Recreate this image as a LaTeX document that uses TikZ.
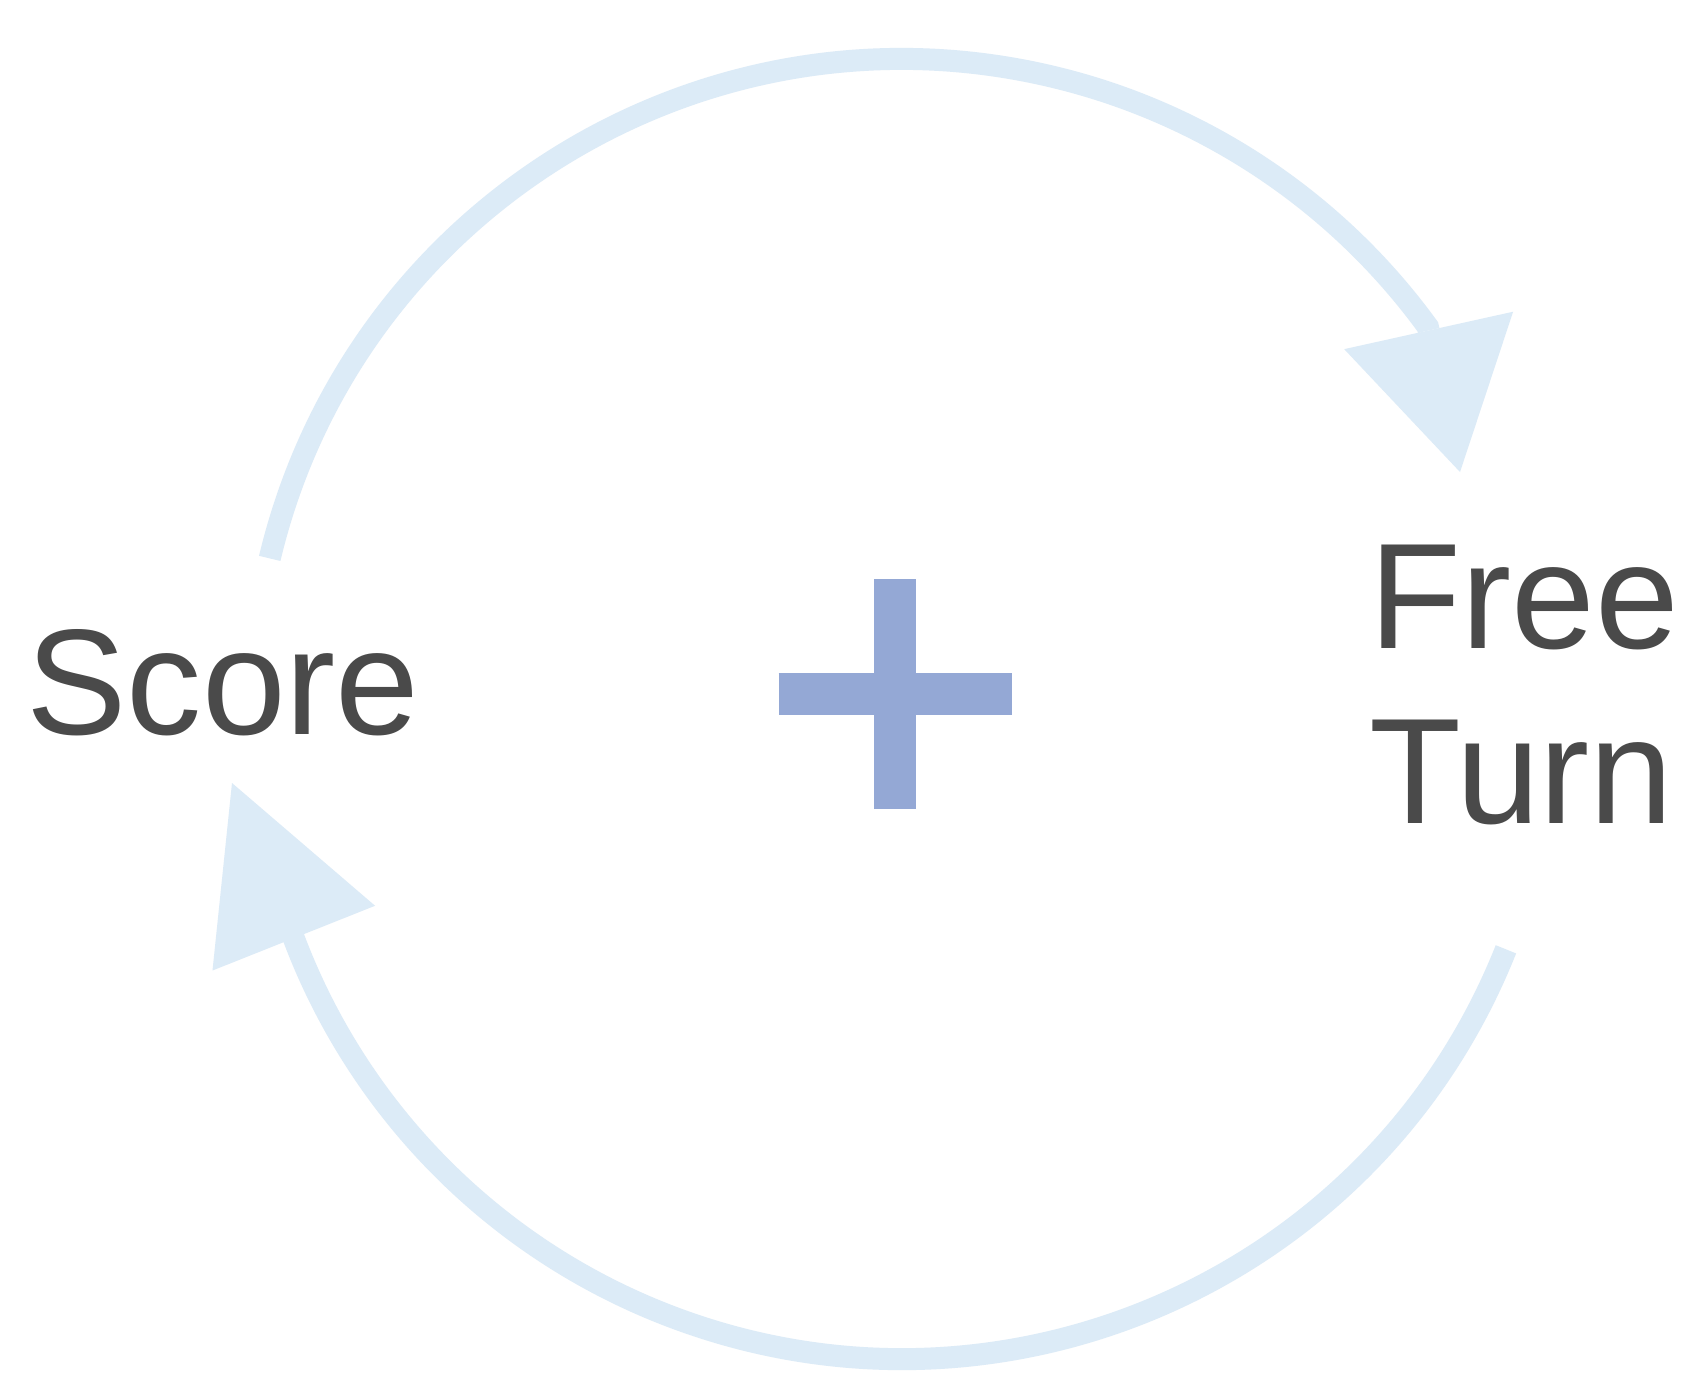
\documentclass[tikz,border=0pt]{standalone}
\usepackage{fontspec}
\setmainfont{Liberation Sans}
\usetikzlibrary{arrows.meta,positioning}
\definecolor{labelgray}{RGB}{74,74,74}
\definecolor{plusblue}{RGB}{148,168,213}
\definecolor{looplight}{RGB}{220,235,247}

\begin{document}
\begin{tikzpicture}[
    labeltext/.style={font=\fontsize{42.8}{50}\selectfont, text=labelgray, inner sep=0pt},
    looparrow/.style={looplight, line width=0.22cm},
    plusbar/.style={plusblue, line width=0.42cm}
]
% Canvas
\fill[white] (0,0) rectangle (16.83,13.90);
\useasboundingbox (0,0) rectangle (16.83,13.90);
% Centre of the loop
\coordinate (hub) at (9.02,6.81);
% Labels
\node[labeltext, anchor=base] (score) at (2.23,6.56) {Score};
\node[labeltext, anchor=north west, align=left] (freeturn) at (13.69,8.46) {Free\\Turn};
% Plus sign
\coordinate (plus) at (8.95,6.96);
\draw[plusbar] ([xshift=-1.165cm]plus) -- ([xshift=1.165cm]plus);
\draw[plusbar] ([yshift=-1.15cm]plus) -- ([yshift=1.15cm]plus);
% Loop arrows
\coordinate (upstart) at ([shift={(166.6:6.5)}]hub);
\coordinate (lowstart) at ([shift={(-21.7:6.5)}]hub);
\coordinate (uptip) at (14.60,9.18);
\coordinate (lowtip) at (2.32,6.07);
\draw[looparrow, -{Triangle[length=1.45cm, width=1.73cm, line width=0pt]}]
    (upstart) arc[start angle=166.6, end angle=36, radius=6.5] -- (uptip);
\draw[looparrow, -{Triangle[length=1.67cm, width=1.75cm, line width=0pt]}]
    (lowstart) arc[start angle=-21.7, end angle=-159.5, radius=6.5] -- (lowtip);
\end{tikzpicture}
\end{document}
